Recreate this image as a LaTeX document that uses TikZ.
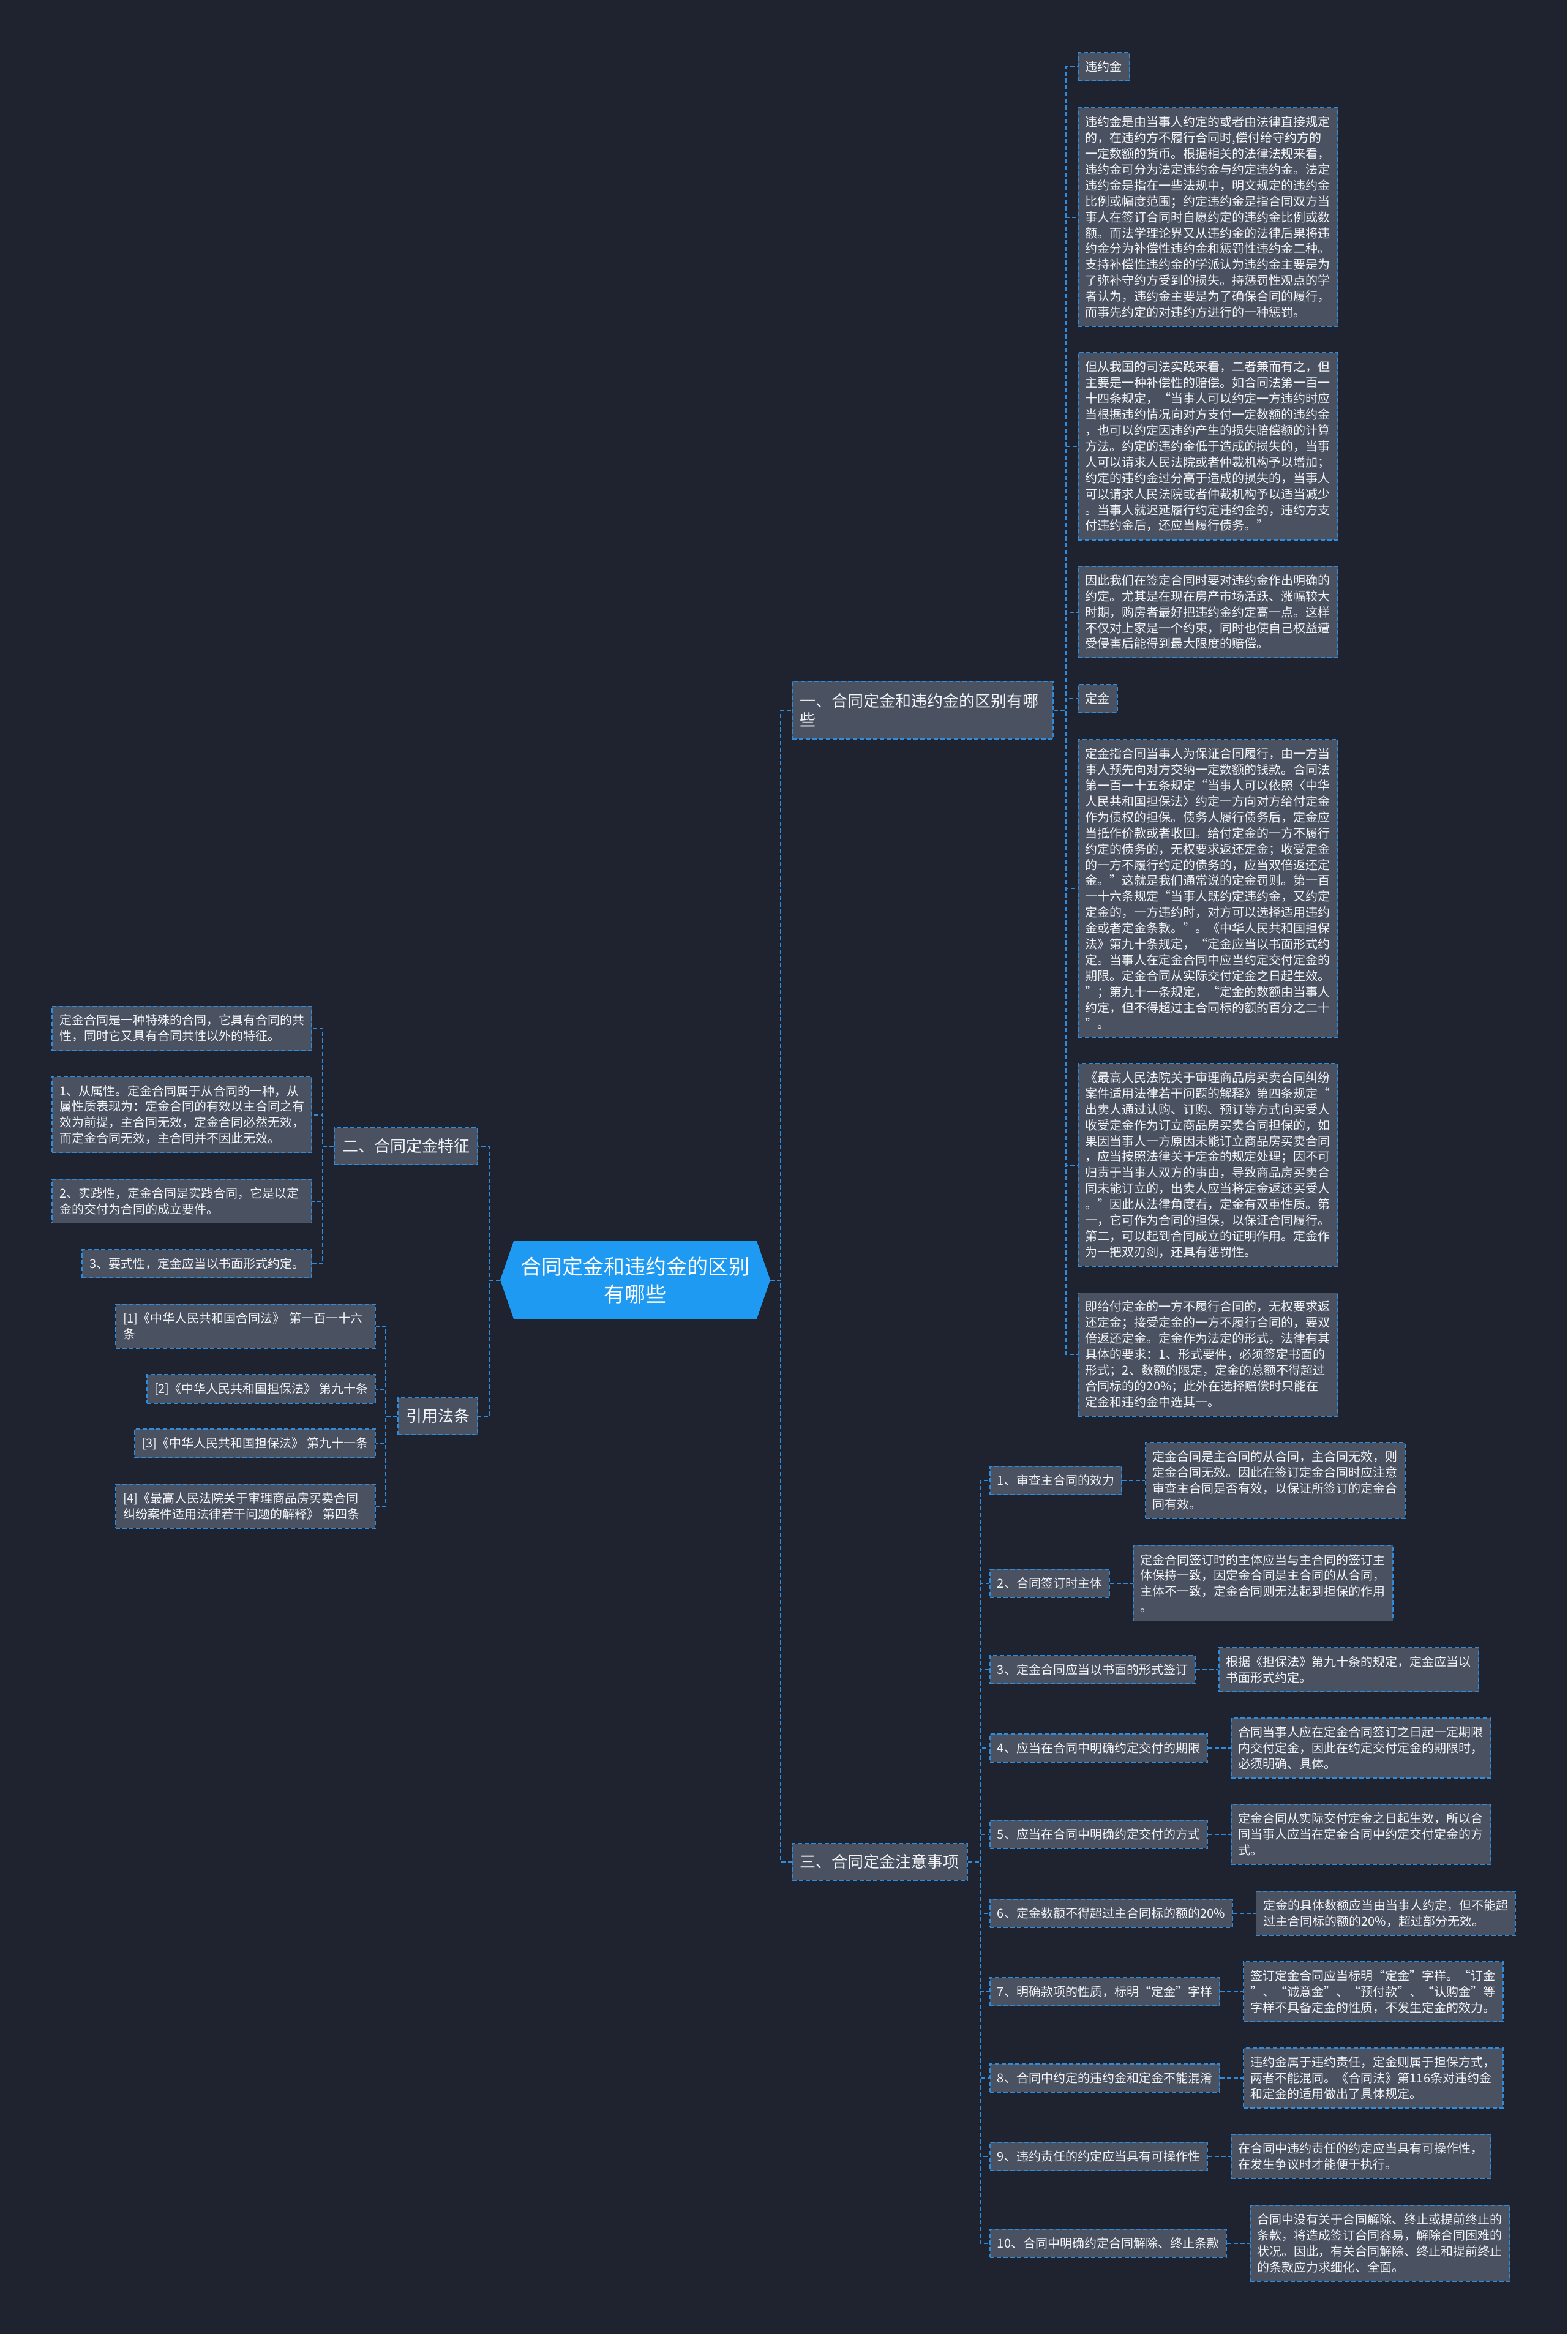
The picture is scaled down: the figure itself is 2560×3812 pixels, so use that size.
\documentclass[tikz,border=0pt]{standalone}
\usepackage{fontspec}
\setmainfont{Noto Sans CJK SC}
\usetikzlibrary{positioning}
\definecolor{bgc}{HTML}{1F2330}
\definecolor{boxc}{HTML}{4A5161}
\definecolor{linec}{HTML}{2D8CDD}
\definecolor{rootc}{HTML}{1E9AF2}
\definecolor{txtc}{HTML}{F2F4F7}
\tikzset{
  conn/.style={draw=linec, line width=1pt, dash pattern=on 3.5pt off 2pt},
  box/.style={draw=linec, fill=boxc, line width=0.9pt, dash pattern=on 3.5pt off 2pt, text=txtc, font=\fontsize{10}{12.95}\selectfont, inner xsep=6pt, inner ysep=6.8pt, align=left},
  wide/.style={box, text width=200pt},
  branch/.style={box, font=\fontsize{13}{15.5}\selectfont, inner xsep=6.5pt, inner ysep=9pt},
  rootnode/.style={text=white, font=\fontsize{17}{22.5}\selectfont, align=center, minimum width=220.5pt, minimum height=63.5pt, inner sep=0pt}
}
\begin{document}
\begin{tikzpicture}[x=0.5pt,y=-0.5pt]
\fill[bgc] (0,0) rectangle (2560,3812);
\useasboundingbox (0,0) rectangle (2560,3812);

% root
\fill[rootc] (817,2090.5) -- (839,2027) -- (1236,2027) -- (1258,2090.5) -- (1236,2154) -- (839,2154) -- cycle;
\node[rootnode] (root) at (1037.5,2090.5) {合同定金和违约金的区别\\有哪些};

% branches
\node[branch, text width=200pt, inner ysep=9.75pt, anchor=west] (b1) at (1293,1160) {一、合同定金和违约金的区别有哪\\些};
\node[branch, anchor=west] (b3) at (1293,3041) {三、合同定金注意事项};
\node[branch, anchor=east] (b2) at (781,1872) {二、合同定金特征};
\node[branch, anchor=east] (b4) at (781,2313) {引用法条};

% branch 1 children
\node[box, anchor=west] (w0) at (1760,109) {违约金};
\node[wide, anchor=west] (w1) at (1760,354.5) {违约金是由当事人约定的或者由法律直接规定\\的，在违约方不履行合同时,偿付给守约方的\\一定数额的货币。根据相关的法律法规来看，\\违约金可分为法定违约金与约定违约金。法定\\违约金是指在一些法规中，明文规定的违约金\\比例或幅度范围；约定违约金是指合同双方当\\事人在签订合同时自愿约定的违约金比例或数\\额。而法学理论界又从违约金的法律后果将违\\约金分为补偿性违约金和惩罚性违约金二种。\\支持补偿性违约金的学派认为违约金主要是为\\了弥补守约方受到的损失。持惩罚性观点的学\\者认为，违约金主要是为了确保合同的履行，\\而事先约定的对违约方进行的一种惩罚。};
\node[wide, anchor=west] (w2) at (1760,729) {但从我国的司法实践来看，二者兼而有之，但\\主要是一种补偿性的赔偿。如合同法第一百一\\十四条规定，“当事人可以约定一方违约时应\\当根据违约情况向对方支付一定数额的违约金\\，也可以约定因违约产生的损失赔偿额的计算\\方法。约定的违约金低于造成的损失的，当事\\人可以请求人民法院或者仲裁机构予以增加；\\约定的违约金过分高于造成的损失的，当事人\\可以请求人民法院或者仲裁机构予以适当减少\\。当事人就迟延履行约定违约金的，违约方支\\付违约金后，还应当履行债务。”};
\node[wide, anchor=west] (w3) at (1760,999.5) {因此我们在签定合同时要对违约金作出明确的\\约定。尤其是在现在房产市场活跃、涨幅较大\\时期，购房者最好把违约金约定高一点。这样\\不仅对上家是一个约束，同时也使自己权益遭\\受侵害后能得到最大限度的赔偿。};
\node[box, anchor=west] (w4) at (1760,1141) {定金};
\node[wide, anchor=west] (w5) at (1760,1451) {定金指合同当事人为保证合同履行，由一方当\\事人预先向对方交纳一定数额的钱款。合同法\\第一百一十五条规定“当事人可以依照〈中华\\人民共和国担保法〉约定一方向对方给付定金\\作为债权的担保。债务人履行债务后，定金应\\当抵作价款或者收回。给付定金的一方不履行\\约定的债务的，无权要求返还定金；收受定金\\的一方不履行约定的债务的，应当双倍返还定\\金。”这就是我们通常说的定金罚则。第一百\\一十六条规定“当事人既约定违约金，又约定\\定金的，一方违约时，对方可以选择适用违约\\金或者定金条款。”。《中华人民共和国担保\\法》第九十条规定，“定金应当以书面形式约\\定。当事人在定金合同中应当约定交付定金的\\期限。定金合同从实际交付定金之日起生效。\\”；第九十一条规定，“定金的数额由当事人\\约定，但不得超过主合同标的额的百分之二十\\”。};
\node[wide, anchor=west] (w6) at (1760,1902.5) {《最高人民法院关于审理商品房买卖合同纠纷\\案件适用法律若干问题的解释》第四条规定“\\出卖人通过认购、订购、预订等方式向买受人\\收受定金作为订立商品房买卖合同担保的，如\\果因当事人一方原因未能订立商品房买卖合同\\，应当按照法律关于定金的规定处理；因不可\\归责于当事人双方的事由，导致商品房买卖合\\同未能订立的，出卖人应当将定金返还买受人\\。”因此从法律角度看，定金有双重性质。第\\一，它可作为合同的担保，以保证合同履行。\\第二，可以起到合同成立的证明作用。定金作\\为一把双刃剑，还具有惩罚性。};
\node[wide, anchor=west] (w7) at (1760,2212) {即给付定金的一方不履行合同的，无权要求返\\还定金；接受定金的一方不履行合同的，要双\\倍返还定金。定金作为法定的形式，法律有其\\具体的要求：1、形式要件，必须签定书面的\\形式；2、数额的限定，定金的总额不得超过\\合同标的的20\%；此外在选择赔偿时只能在\\定金和违约金中选其一。};

% branch 3 items
\node[box, anchor=west] (i1) at (1616,2418) {1、审查主合同的效力};
\node[box, anchor=west] (i2) at (1616,2586) {2、合同签订时主体};
\node[box, anchor=west] (i3) at (1616,2727) {3、定金合同应当以书面的形式签订};
\node[box, anchor=west] (i4) at (1616,2855) {4、应当在合同中明确约定交付的期限};
\node[box, anchor=west] (i5) at (1616,2996) {5、应当在合同中明确约定交付的方式};
\node[box, anchor=west] (i6) at (1616,3125) {6、定金数额不得超过主合同标的额的20\%};
\node[box, anchor=west] (i7) at (1616,3253) {7、明确款项的性质，标明“定金”字样};
\node[box, anchor=west] (i8) at (1616,3394) {8、合同中约定的违约金和定金不能混淆};
\node[box, anchor=west] (i9) at (1616,3522) {9、违约责任的约定应当具有可操作性};
\node[box, anchor=west] (i10) at (1616,3664) {10、合同中明确约定合同解除、终止条款};

\node[wide, right=18.5pt of i1] (d1) {定金合同是主合同的从合同，主合同无效，则\\定金合同无效。因此在签订定金合同时应注意\\审查主合同是否有效，以保证所签订的定金合\\同有效。};
\node[wide, right=18.5pt of i2] (d2) {定金合同签订时的主体应当与主合同的签订主\\体保持一致，因定金合同是主合同的从合同，\\主体不一致，定金合同则无法起到担保的作用\\。};
\node[wide, right=18.5pt of i3] (d3) {根据《担保法》第九十条的规定，定金应当以\\书面形式约定。};
\node[wide, right=18.5pt of i4] (d4) {合同当事人应在定金合同签订之日起一定期限\\内交付定金，因此在约定交付定金的期限时，\\必须明确、具体。};
\node[wide, right=18.5pt of i5] (d5) {定金合同从实际交付定金之日起生效，所以合\\同当事人应当在定金合同中约定交付定金的方\\式。};
\node[wide, right=18.5pt of i6] (d6) {定金的具体数额应当由当事人约定，但不能超\\过主合同标的额的20\%，超过部分无效。};
\node[wide, right=18.5pt of i7] (d7) {签订定金合同应当标明“定金”字样。“订金\\”、“诚意金”、“预付款”、“认购金”等\\字样不具备定金的性质，不发生定金的效力。};
\node[wide, right=18.5pt of i8] (d8) {违约金属于违约责任，定金则属于担保方式，\\两者不能混同。《合同法》第116条对违约金\\和定金的适用做出了具体规定。};
\node[wide, right=18.5pt of i9] (d9) {在合同中违约责任的约定应当具有可操作性，\\在发生争议时才能便于执行。};
\node[wide, right=18.5pt of i10] (d10) {合同中没有关于合同解除、终止或提前终止的\\条款，将造成签订合同容易，解除合同困难的\\状况。因此，有关合同解除、终止和提前终止\\的条款应力求细化、全面。};

% branch 2 children
\node[wide, anchor=east] (l0) at (510,1679.5) {定金合同是一种特殊的合同，它具有合同的共\\性，同时它又具有合同共性以外的特征。};
\node[wide, anchor=east] (l1) at (510,1820.5) {1、从属性。定金合同属于从合同的一种，从\\属性质表现为：定金合同的有效以主合同之有\\效为前提，主合同无效，定金合同必然无效，\\而定金合同无效，主合同并不因此无效。};
\node[wide, anchor=east] (l2) at (510,1961.5) {2、实践性，定金合同是实践合同，它是以定\\金的交付为合同的成立要件。};
\node[box, anchor=east] (l3) at (510,2064) {3、要式性，定金应当以书面形式约定。};

% references
\node[wide, anchor=east] (r1) at (614,2166) {[1]《中华人民共和国合同法》 第一百一十六\\条};
\node[box, anchor=east] (r2) at (614,2268.5) {[2]《中华人民共和国担保法》 第九十条};
\node[box, anchor=east] (r3) at (614,2357.5) {[3]《中华人民共和国担保法》 第九十一条};
\node[wide, anchor=east] (r4) at (614,2460) {[4]《最高人民法院关于审理商品房买卖合同\\纠纷案件适用法律若干问题的解释》 第四条};

% connectors
\foreach \b in {b1,b3} \draw[conn] (root.east) -- ++(17,0) |- (\b.west);
\foreach \b in {b2,b4} \draw[conn] (root.west) -- ++(-17,0) |- (\b.east);
\foreach \n in {w0,w1,w2,w3,w4,w5,w6,w7} \draw[conn] (b1.east) -- ++(20,0) |- (\n.west);
\foreach \n in {i1,i2,i3,i4,i5,i6,i7,i8,i9,i10} \draw[conn] (b3.east) -- ++(20,0) |- (\n.west);
\foreach \n in {1,...,10} \draw[conn] (i\n.east) -- (d\n.west);
\foreach \n in {l0,l1,l2,l3} \draw[conn] (b2.west) -- ++(-18,0) |- (\n.east);
\foreach \n in {r1,r2,r3,r4} \draw[conn] (b4.west) -- ++(-19,0) |- (\n.east);
\end{tikzpicture}
\end{document}
